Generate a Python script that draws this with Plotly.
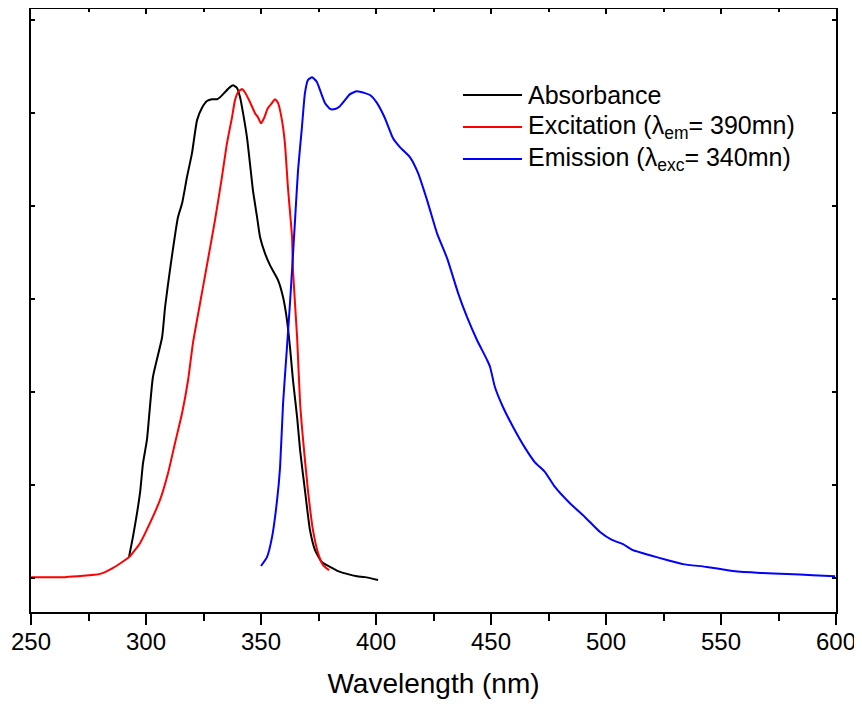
import plotly.graph_objects as go

# ---- data ----
abs_x = [292.6, 294.3, 297.4, 298.7, 300.4, 303.0, 307.0, 308.3, 310.4, 313.9, 315.7, 317.8, 320.0,
         322.2, 324.3, 326.5, 328.7, 330.9, 332.2, 334.3, 336.5, 337.8, 339.6, 340.9, 342.2, 343.9,
         345.2, 346.5, 348.3, 349.6, 351.7, 353.9, 357.4, 359.6, 361.3, 362.6, 363.9, 365.7, 367.0,
         369.1, 371.3, 373.5, 376.5, 380.0, 383.5, 387.4, 391.7, 395.2, 400.9]
abs_y = [0.045, 0.088, 0.183, 0.247, 0.297, 0.432, 0.518, 0.583, 0.662, 0.776, 0.806, 0.862, 0.914,
         0.985, 1.011, 1.026, 1.030, 1.030, 1.034, 1.045, 1.056, 1.060, 1.054, 1.034, 1.000, 0.948,
         0.892, 0.834, 0.776, 0.733, 0.699, 0.673, 0.641, 0.604, 0.555, 0.497, 0.426, 0.346, 0.275,
         0.189, 0.103, 0.060, 0.034, 0.024, 0.015, 0.009, 0.004, 0.002, -0.004]

exc_x = [250.0, 264.8, 280.0, 285.7, 292.6, 297.4, 301.7, 306.1, 309.6, 312.6, 315.7, 318.3, 320.4,
         323.5, 326.1, 330.0, 333.0, 335.2, 337.4, 338.7, 340.0, 341.7, 343.0, 345.2, 347.4, 348.7,
         350.0, 351.3, 353.0, 354.8, 356.1, 357.4, 359.1, 360.4, 361.7, 363.5, 363.9, 365.7, 367.0,
         368.3, 370.4, 372.6, 374.8, 377.0, 379.6]
exc_y = [0.002, 0.002, 0.009, 0.022, 0.045, 0.075, 0.118, 0.168, 0.226, 0.290, 0.355, 0.426, 0.505,
         0.591, 0.662, 0.770, 0.862, 0.935, 0.991, 1.028, 1.045, 1.052, 1.045, 1.024, 1.000, 0.991,
         0.978, 0.989, 1.011, 1.022, 1.030, 1.022, 0.985, 0.935, 0.841, 0.733, 0.662, 0.518, 0.376,
         0.297, 0.189, 0.103, 0.054, 0.028, 0.017]

emi_x = [350.0, 352.6, 354.8, 357.0, 358.3, 359.6, 361.3, 362.6, 363.5, 364.8, 366.1, 367.8, 369.1,
         370.4, 372.2, 374.3, 375.7, 377.8, 380.0, 382.2, 384.3, 386.5, 388.7, 391.7, 395.2, 397.4,
         400.4, 403.9, 407.4, 410.4, 414.8, 418.3, 422.2, 426.5, 430.9, 435.7, 439.6, 443.9, 448.3,
         449.6, 451.7, 455.2, 459.6, 464.8, 469.1, 473.5, 477.8, 484.3, 490.9, 497.4, 502.6, 507.4,
         511.7, 519.1, 526.5, 533.5, 543.9, 555.2, 567.0, 578.7, 590.0, 599.6]
emi_y = [0.026, 0.045, 0.088, 0.168, 0.239, 0.376, 0.497, 0.591, 0.662, 0.770, 0.877, 0.970, 1.043,
         1.071, 1.077, 1.067, 1.049, 1.022, 1.009, 1.009, 1.015, 1.028, 1.041, 1.047, 1.043, 1.039,
         1.022, 0.989, 0.946, 0.927, 0.905, 0.871, 0.813, 0.742, 0.688, 0.613, 0.561, 0.512, 0.469,
         0.454, 0.411, 0.368, 0.325, 0.280, 0.249, 0.228, 0.196, 0.161, 0.131, 0.099, 0.082, 0.073,
         0.060, 0.049, 0.039, 0.030, 0.024, 0.015, 0.011, 0.009, 0.006, 0.004]

series_names = ["Absorbance",
                "Excitation (λ<sub>em</sub>= 390mn)",
                "Emission (λ<sub>exc</sub>= 340mn)"]
series_colors = ["#000000", "#FF0000", "#0000FF"]

x_ticks = [250, 300, 350, 400, 450, 500, 550, 600]
x_range = [250, 600]
y_range = [-0.073, 1.224]

FONT = "Liberation Sans, Arial, sans-serif"

# page has an 8px body margin; figure is sized to fill the rest of the window
OFF = 8
W, H = 862 - OFF, 704 - OFF
PL, PR, PT, PB = 31, 836, 9, 612  # plot-area edges in window pixels

fig = go.Figure()
for xs, ys, name, col in zip([abs_x, exc_x, emi_x], [abs_y, exc_y, emi_y], series_names, series_colors):
    fig.add_trace(go.Scatter(x=xs, y=ys, mode="lines", name=name,
                             line=dict(color=col, width=2, shape="spline", smoothing=0.5),
                             showlegend=False))

# empty trace to carry the top axis
fig.add_trace(go.Scatter(x=[], y=[], xaxis="x2", yaxis="y", showlegend=False, hoverinfo="skip"))

fig.update_layout(
    width=W, height=H,
    margin=dict(l=PL - OFF, r=862 - PR, t=PT - OFF, b=704 - PB, autoexpand=False),
    paper_bgcolor="white", plot_bgcolor="white",
    font=dict(family=FONT, color="black"),
    xaxis=dict(range=x_range, tickvals=x_ticks, ticks="outside", ticklen=11, tickwidth=1.5,
               tickcolor="black", showline=True, linecolor="black", linewidth=2,
               showgrid=False, zeroline=False, tickfont=dict(size=24, family=FONT),
               ticklabelstandoff=-4,
               minor=dict(dtick=25, tick0=250, ticks="outside", ticklen=7, tickwidth=1.5, tickcolor="black"),
               title=dict(text="Wavelength (nm)", font=dict(size=28, family=FONT), standoff=20)),
    xaxis2=dict(range=x_range, overlaying="x", side="top", anchor="y", tickvals=x_ticks,
                ticks="inside", ticklen=5, tickwidth=1.5, tickcolor="black",
                showline=True, linecolor="black", linewidth=2, showgrid=False, zeroline=False,
                showticklabels=False,
                minor=dict(dtick=25, tick0=250, ticks="inside", ticklen=3, tickwidth=1.5, tickcolor="black")),
    yaxis=dict(range=y_range, dtick=0.2, tick0=0, ticks="inside", ticklen=4, tickwidth=1.5,
               tickcolor="black", showline=True, linecolor="black", linewidth=2, mirror="ticks",
               showgrid=False, zeroline=False, showticklabels=False),
)

# manual legend (paper coordinates)
def px_to_paper(px, py):
    return (px - PL) / float(PR - PL), (PB - py) / float(PB - PT)

legend_rows = [95, 127, 159]
for row_y, name, col in zip(legend_rows, series_names, series_colors):
    x0, y0 = px_to_paper(463, row_y)
    x1, _ = px_to_paper(522, row_y)
    fig.add_shape(type="line", xref="paper", yref="paper", x0=x0, x1=x1, y0=y0, y1=y0,
                  line=dict(color=col, width=2))
    tx, ty = px_to_paper(526, row_y)
    fig.add_annotation(xref="paper", yref="paper", x=tx, y=ty, text=name, showarrow=False,
                       xanchor="left", yanchor="middle", font=dict(size=25, family=FONT, color="black"))

fig.write_html("out.html")
